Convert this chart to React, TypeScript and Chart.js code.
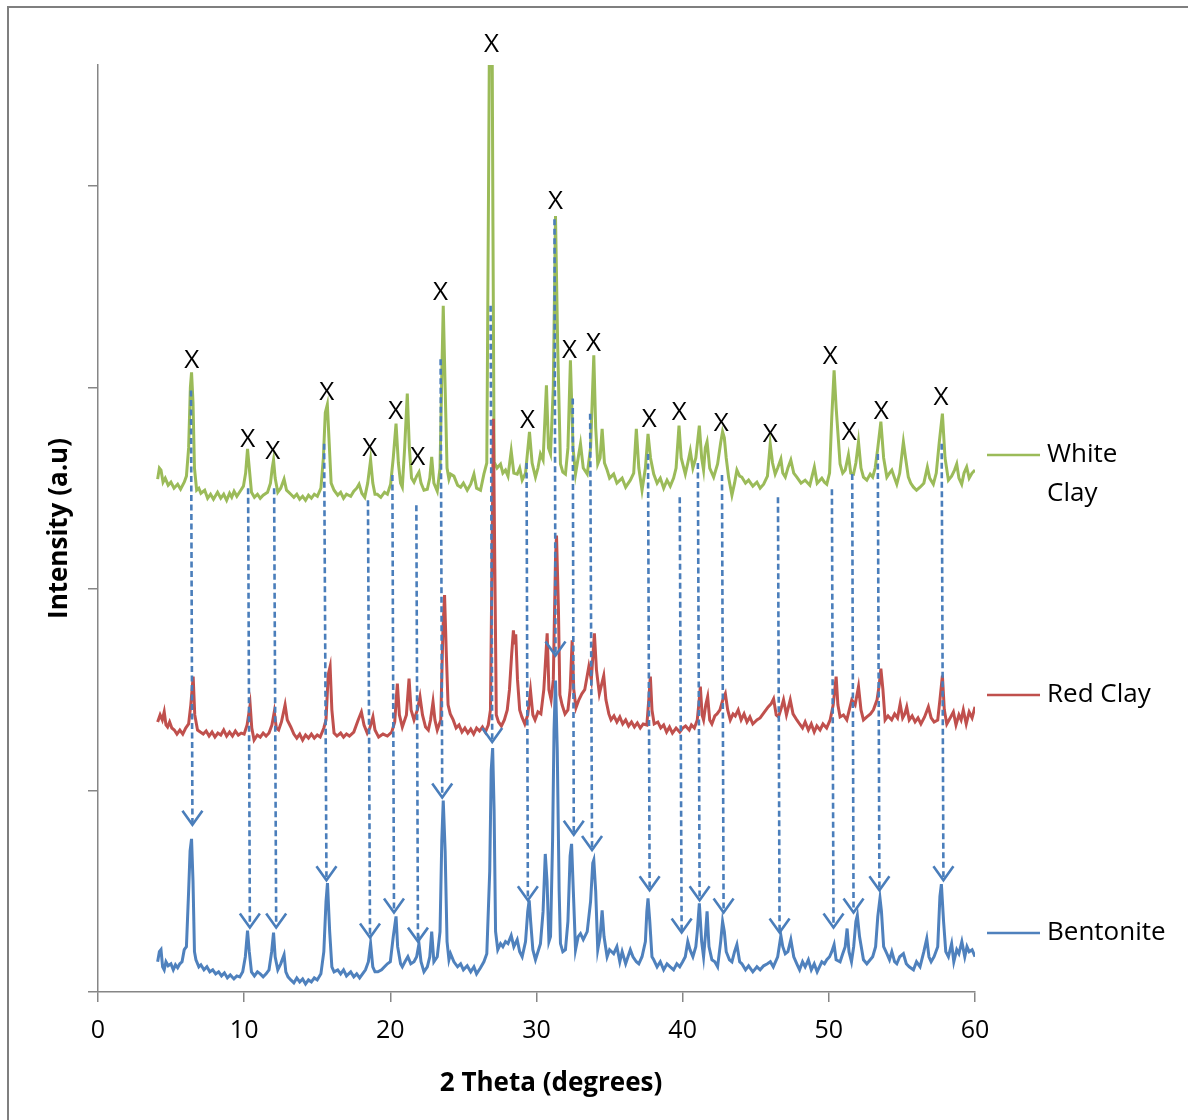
import React, { useEffect, useRef } from 'react';
import { Chart, registerables } from 'chart.js';

Chart.register(...registerables);

// ---------------- DATA (2θ in degrees, intensity in a.u.) ----------------
const whiteClay: [number, number][] = [
  [4.08, 509], [4.2, 520], [4.31, 518], [4.45, 506], [4.6, 510], [4.8, 503], [4.99, 506], [5.2, 500], [5.45, 504], [5.65, 499],
  [5.9, 506], [6.05, 512], [6.2, 540], [6.32, 600], [6.4, 615], [6.5, 585], [6.6, 520], [6.75, 498], [6.9, 500], [7.04, 495],
  [7.3, 498], [7.5, 490], [7.7, 494], [7.9, 489], [8.18, 496], [8.4, 490], [8.6, 494], [8.8, 488], [9.0, 495], [9.15, 491],
  [9.31, 497], [9.5, 492], [9.77, 498], [9.95, 502], [10.1, 515], [10.23, 539], [10.35, 520], [10.5, 496], [10.7, 491], [10.91, 494],
  [11.1, 490], [11.3, 493], [11.6, 496], [11.8, 505], [11.92, 520], [12.01, 528], [12.12, 510], [12.3, 496], [12.5, 500], [12.73, 509],
  [12.9, 498], [13.19, 494], [13.4, 491], [13.6, 494], [13.8, 489], [14.0, 492], [14.2, 488], [14.4, 493], [14.6, 490], [14.8, 494],
  [15.01, 492], [15.25, 500], [15.42, 530], [15.55, 575], [15.69, 583], [15.8, 550], [15.95, 505], [16.15, 498], [16.4, 493], [16.6, 496],
  [16.8, 490], [17.0, 494], [17.29, 492], [17.5, 497], [17.7, 500], [17.86, 504], [18.05, 495], [18.25, 491], [18.45, 505], [18.65, 528],
  [18.8, 505], [18.95, 494], [19.11, 494], [19.35, 491], [19.6, 496], [19.8, 494], [20.02, 504], [20.2, 530], [20.39, 564], [20.55, 525],
  [20.7, 505], [20.82, 501], [20.98, 540], [21.16, 594], [21.3, 540], [21.45, 510], [21.62, 506], [21.8, 512], [21.96, 516], [22.1, 505],
  [22.3, 498], [22.53, 499], [22.7, 510], [22.83, 531], [22.98, 505], [23.21, 497], [23.4, 520], [23.52, 610], [23.62, 681], [23.75, 600],
  [23.88, 520], [24.01, 509], [24.12, 514], [24.35, 512], [24.6, 503], [24.81, 501], [25.0, 505], [25.26, 498], [25.5, 504], [25.72, 514],
  [25.9, 500], [26.17, 498], [26.4, 514], [26.6, 525], [26.72, 800], [26.8, 1000], [26.95, 1000], [27.02, 760], [27.1, 526], [27.3, 520],
  [27.54, 524], [27.7, 515], [27.88, 518], [28.05, 512], [28.27, 537], [28.45, 515], [28.68, 514], [28.85, 520], [29.02, 508], [29.25, 515],
  [29.52, 556], [29.7, 525], [29.93, 511], [30.1, 520], [30.27, 534], [30.45, 528], [30.68, 602], [30.82, 540], [30.96, 534], [31.15, 600],
  [31.3, 770], [31.45, 640], [31.64, 524], [31.8, 516], [31.98, 514], [32.15, 540], [32.32, 627], [32.5, 540], [32.67, 514], [32.85, 530],
  [33.01, 544], [33.2, 520], [33.47, 514], [33.7, 540], [33.92, 632], [34.05, 560], [34.19, 524], [34.35, 530], [34.49, 559], [34.65, 525],
  [34.83, 518], [35.0, 510], [35.28, 514], [35.5, 505], [35.86, 510], [36.1, 501], [36.42, 508], [36.65, 515], [36.83, 559], [37.0, 520],
  [37.22, 498], [37.45, 520], [37.63, 554], [37.8, 530], [38.02, 514], [38.25, 505], [38.47, 510], [38.7, 500], [38.93, 508], [39.15, 502],
  [39.38, 510], [39.55, 520], [39.75, 562], [39.9, 530], [40.18, 514], [40.35, 525], [40.52, 537], [40.7, 520], [40.9, 530], [41.14, 562],
  [41.3, 530], [41.43, 518], [41.55, 540], [41.67, 546], [41.85, 520], [42.12, 511], [42.39, 524], [42.6, 545], [42.73, 556], [42.85, 550],
  [42.98, 530], [43.15, 510], [43.37, 493], [43.55, 505], [43.71, 518], [43.9, 512], [44.05, 511], [44.3, 505], [44.51, 508], [44.8, 502],
  [45.08, 506], [45.3, 500], [45.54, 504], [45.8, 512], [45.99, 544], [46.15, 525], [46.33, 514], [46.5, 520], [46.72, 529], [46.85, 515],
  [47.02, 511], [47.2, 520], [47.4, 528], [47.6, 515], [47.81, 511], [48.1, 505], [48.38, 508], [48.7, 503], [49.01, 521], [49.2, 505],
  [49.52, 510], [49.7, 506], [49.86, 504], [50.05, 515], [50.2, 570], [50.36, 617], [50.5, 580], [50.77, 524], [50.95, 515], [51.12, 518],
  [51.34, 533], [51.5, 515], [51.69, 514], [51.85, 525], [52.03, 546], [52.2, 520], [52.37, 511], [52.6, 508], [52.83, 514], [53.0, 511],
  [53.17, 520], [53.35, 540], [53.56, 566], [53.75, 530], [53.97, 511], [54.15, 515], [54.31, 518], [54.5, 510], [54.65, 504], [54.85, 515],
  [55.1, 546], [55.25, 530], [55.44, 511], [55.6, 505], [55.79, 501], [56.0, 498], [56.24, 501], [56.5, 505], [56.74, 521], [56.9, 510],
  [57.15, 504], [57.35, 515], [57.55, 545], [57.77, 574], [57.95, 530], [58.18, 508], [58.4, 512], [58.6, 518], [58.75, 524], [58.9, 510],
  [59.09, 504], [59.25, 515], [59.43, 521], [59.6, 510], [59.8, 515], [60.0, 518],
];

const redClay: [number, number][] = [
  [4.08, 268], [4.25, 275], [4.4, 270], [4.53, 278], [4.65, 265], [4.76, 263], [4.9, 268], [5.05, 262], [5.22, 260], [5.4, 256],
  [5.6, 260], [5.8, 256], [6.0, 262], [6.2, 266], [6.35, 285], [6.51, 313], [6.62, 275], [6.81, 260], [7.0, 258], [7.2, 256],
  [7.4, 259], [7.6, 254], [7.8, 258], [8.0, 253], [8.2, 257], [8.4, 255], [8.6, 260], [8.8, 254], [9.0, 258], [9.2, 254],
  [9.4, 259], [9.6, 255], [9.8, 257], [10.0, 256], [10.2, 265], [10.41, 285], [10.52, 262], [10.68, 250], [10.9, 255], [11.1, 253],
  [11.3, 257], [11.5, 254], [11.7, 257], [11.9, 265], [12.06, 278], [12.2, 262], [12.36, 260], [12.55, 268], [12.8, 285], [12.95, 270],
  [13.19, 263], [13.4, 256], [13.6, 252], [13.8, 256], [14.0, 250], [14.2, 255], [14.4, 252], [14.6, 256], [14.8, 252], [15.0, 255],
  [15.2, 253], [15.45, 262], [15.6, 270], [15.75, 315], [15.88, 323], [16.0, 280], [16.15, 257], [16.35, 254], [16.6, 257], [16.8, 253],
  [17.0, 256], [17.2, 254], [17.5, 258], [17.8, 270], [18.02, 278], [18.2, 265], [18.42, 257], [18.6, 262], [18.81, 273], [18.95, 260],
  [19.2, 253], [19.5, 256], [19.8, 254], [20.1, 258], [20.3, 268], [20.48, 306], [20.62, 275], [20.82, 263], [21.1, 275], [21.28, 311],
  [21.42, 280], [21.62, 270], [21.85, 280], [22.03, 293], [22.2, 275], [22.41, 263], [22.6, 260], [22.75, 270], [22.92, 288], [23.05, 270],
  [23.21, 260], [23.45, 270], [23.6, 360], [23.71, 394], [23.82, 340], [23.95, 285], [24.1, 276], [24.3, 270], [24.5, 262], [24.7, 265],
  [24.9, 258], [25.1, 262], [25.3, 257], [25.5, 261], [25.7, 256], [25.9, 262], [26.1, 259], [26.3, 263], [26.5, 258], [26.7, 265],
  [26.85, 280], [26.95, 420], [27.05, 569], [27.15, 420], [27.25, 275], [27.4, 268], [27.6, 264], [27.8, 270], [28.0, 280], [28.15, 300],
  [28.3, 335], [28.42, 359], [28.5, 345], [28.58, 355], [28.7, 310], [28.85, 280], [29.0, 273], [29.2, 266], [29.4, 275], [29.59, 299],
  [29.75, 275], [29.9, 270], [30.1, 278], [30.3, 276], [30.5, 300], [30.73, 356], [30.85, 300], [31.0, 290], [31.15, 310], [31.3, 430],
  [31.37, 453], [31.5, 380], [31.6, 295], [31.75, 285], [31.95, 276], [32.15, 280], [32.3, 300], [32.44, 349], [32.55, 300], [32.7, 282],
  [32.9, 290], [33.1, 296], [33.3, 300], [33.58, 323], [33.75, 310], [33.96, 356], [34.1, 320], [34.3, 296], [34.6, 314], [34.75, 290],
  [34.95, 276], [35.1, 270], [35.3, 274], [35.5, 268], [35.7, 273], [35.9, 266], [36.1, 270], [36.3, 264], [36.5, 268], [36.7, 263],
  [36.9, 267], [37.1, 262], [37.3, 266], [37.55, 265], [37.68, 290], [37.79, 313], [37.9, 280], [38.05, 266], [38.3, 268], [38.5, 262],
  [38.7, 265], [38.9, 258], [39.1, 263], [39.3, 257], [39.55, 262], [39.8, 258], [40.0, 262], [40.2, 264], [40.45, 260], [40.6, 265],
  [40.8, 262], [41.0, 270], [41.1, 285], [41.21, 303], [41.33, 275], [41.43, 270], [41.58, 285], [41.71, 293], [41.85, 270], [42.0, 266],
  [42.2, 274], [42.35, 276], [42.55, 280], [42.75, 290], [42.92, 296], [43.08, 280], [43.26, 270], [43.45, 276], [43.6, 274], [43.8, 280],
  [44.0, 270], [44.2, 276], [44.4, 268], [44.6, 273], [44.8, 266], [45.08, 270], [45.3, 272], [45.6, 278], [45.85, 283], [46.05, 286],
  [46.22, 291], [46.4, 275], [46.56, 273], [46.75, 282], [46.9, 290], [47.1, 275], [47.36, 290], [47.55, 276], [47.81, 270], [48.0, 266],
  [48.2, 262], [48.38, 268], [48.6, 260], [48.8, 266], [49.0, 258], [49.18, 264], [49.4, 260], [49.6, 266], [49.85, 262], [50.09, 270],
  [50.3, 285], [50.5, 313], [50.62, 285], [50.77, 273], [51.0, 275], [51.23, 270], [51.4, 280], [51.57, 290], [51.8, 285], [52.03, 303],
  [52.2, 280], [52.37, 270], [52.6, 273], [52.85, 276], [53.05, 280], [53.3, 290], [53.45, 305], [53.56, 321], [53.7, 300], [53.85, 270],
  [54.05, 274], [54.3, 270], [54.5, 276], [54.7, 272], [54.88, 286], [55.05, 272], [55.2, 276], [55.33, 283], [55.5, 270], [55.7, 274],
  [55.9, 268], [56.1, 272], [56.3, 266], [56.55, 273], [56.81, 283], [57.0, 272], [57.2, 268], [57.45, 270], [57.6, 290], [57.77, 314],
  [57.9, 280], [58.07, 266], [58.3, 272], [58.52, 278], [58.7, 265], [58.9, 275], [59.05, 270], [59.2, 280], [59.4, 266], [59.6, 278],
  [59.8, 272], [60.0, 283],
];

const bentonite: [number, number][] = [
  [4.08, 30], [4.2, 40], [4.31, 42], [4.42, 25], [4.53, 22], [4.65, 30], [4.8, 26], [4.99, 28], [5.15, 22], [5.3, 27],
  [5.45, 24], [5.6, 28], [5.75, 30], [5.9, 42], [6.05, 45], [6.2, 100], [6.3, 140], [6.4, 152], [6.5, 110], [6.6, 40],
  [6.7, 32], [6.9, 25], [7.04, 27], [7.25, 22], [7.45, 25], [7.65, 20], [7.85, 22], [8.05, 18], [8.25, 20], [8.45, 16],
  [8.65, 19], [8.85, 14], [9.05, 17], [9.3, 13], [9.5, 16], [9.7, 15], [9.9, 20], [10.08, 35], [10.23, 61], [10.35, 40],
  [10.5, 20], [10.7, 16], [10.91, 20], [11.1, 18], [11.3, 15], [11.5, 18], [11.7, 22], [11.88, 40], [12.01, 59], [12.12, 35],
  [12.3, 22], [12.5, 28], [12.73, 37], [12.85, 20], [13.0, 15], [13.19, 12], [13.4, 9], [13.6, 14], [13.8, 10], [14.0, 13],
  [14.2, 8], [14.4, 12], [14.6, 10], [14.8, 14], [15.0, 12], [15.25, 18], [15.45, 40], [15.6, 90], [15.7, 108], [15.85, 60],
  [16.0, 25], [16.15, 20], [16.4, 22], [16.6, 18], [16.8, 22], [17.0, 16], [17.29, 20], [17.5, 15], [17.7, 18], [17.9, 14],
  [18.1, 18], [18.3, 22], [18.5, 30], [18.65, 48], [18.8, 25], [18.95, 20], [19.15, 20], [19.4, 22], [19.6, 25], [19.8, 28],
  [20.0, 30], [20.2, 55], [20.39, 75], [20.5, 45], [20.7, 28], [20.82, 25], [21.0, 30], [21.2, 35], [21.4, 28], [21.62, 30],
  [21.8, 35], [21.96, 48], [22.1, 30], [22.3, 20], [22.53, 25], [22.7, 35], [22.83, 60], [22.98, 30], [23.21, 35], [23.4, 60],
  [23.52, 150], [23.62, 190], [23.75, 140], [23.88, 50], [24.01, 32], [24.12, 38], [24.35, 30], [24.6, 25], [24.81, 28], [25.0, 22],
  [25.26, 26], [25.5, 20], [25.72, 25], [25.9, 18], [26.17, 24], [26.4, 30], [26.6, 38], [26.8, 120], [26.9, 220], [27.0, 242],
  [27.1, 180], [27.2, 60], [27.35, 42], [27.54, 48], [27.7, 45], [27.88, 50], [28.05, 48], [28.27, 56], [28.45, 45], [28.68, 52],
  [28.85, 40], [29.02, 35], [29.25, 50], [29.4, 80], [29.5, 91], [29.6, 70], [29.75, 42], [29.93, 32], [30.1, 40], [30.27, 48],
  [30.45, 80], [30.6, 137], [30.72, 110], [30.85, 50], [30.96, 55], [31.1, 150], [31.2, 260], [31.3, 309], [31.42, 240], [31.55, 100],
  [31.64, 48], [31.8, 40], [31.98, 42], [32.15, 70], [32.3, 135], [32.4, 147], [32.52, 100], [32.67, 42], [32.85, 55], [33.01, 58],
  [33.2, 52], [33.47, 60], [33.7, 90], [33.85, 128], [33.92, 131], [34.05, 100], [34.19, 42], [34.35, 55], [34.49, 81], [34.62, 55],
  [34.83, 35], [35.0, 42], [35.28, 38], [35.5, 45], [35.7, 30], [35.86, 40], [36.1, 28], [36.42, 42], [36.6, 35], [36.83, 30],
  [37.0, 28], [37.22, 35], [37.45, 50], [37.55, 80], [37.63, 93], [37.75, 70], [37.9, 35], [38.02, 32], [38.25, 25], [38.47, 30],
  [38.7, 22], [38.93, 28], [39.15, 25], [39.38, 22], [39.6, 28], [39.8, 25], [40.0, 30], [40.18, 35], [40.35, 50], [40.5, 42],
  [40.7, 35], [40.9, 45], [41.0, 60], [41.14, 88], [41.3, 50], [41.43, 35], [41.55, 55], [41.67, 80], [41.8, 45], [42.0, 32],
  [42.2, 30], [42.39, 25], [42.6, 50], [42.73, 70], [42.85, 60], [42.98, 40], [43.2, 32], [43.37, 30], [43.55, 40], [43.71, 47],
  [43.9, 30], [44.05, 28], [44.3, 22], [44.51, 26], [44.8, 20], [45.08, 25], [45.3, 22], [45.54, 26], [45.8, 28], [46.0, 30],
  [46.2, 25], [46.5, 35], [46.72, 56], [46.85, 45], [47.02, 38], [47.2, 40], [47.4, 52], [47.6, 35], [47.81, 28], [48.0, 22],
  [48.2, 30], [48.38, 25], [48.6, 32], [48.8, 22], [49.0, 28], [49.2, 20], [49.52, 30], [49.7, 28], [49.86, 32], [50.05, 35],
  [50.2, 40], [50.36, 47], [50.5, 32], [50.77, 30], [50.95, 38], [51.12, 45], [51.25, 63], [51.38, 40], [51.55, 30], [51.7, 45],
  [51.85, 70], [51.95, 76], [52.1, 55], [52.37, 32], [52.6, 28], [52.83, 32], [53.0, 35], [53.2, 45], [53.35, 75], [53.5, 93],
  [53.6, 80], [53.75, 45], [53.97, 38], [54.15, 32], [54.31, 40], [54.5, 30], [54.65, 28], [54.85, 35], [55.1, 38], [55.3, 28],
  [55.5, 25], [55.79, 22], [56.0, 30], [56.24, 25], [56.5, 40], [56.7, 53], [56.85, 35], [57.0, 30], [57.2, 35], [57.45, 45],
  [57.6, 95], [57.7, 107], [57.85, 70], [58.0, 40], [58.18, 35], [58.4, 48], [58.55, 30], [58.75, 42], [58.9, 38], [59.1, 50],
  [59.3, 35], [59.45, 45], [59.6, 40], [59.8, 42], [60.0, 35],
];

// "X" marks over White Clay peaks: [2θ, label height]
const peakMarks: [number, number][] = [
  [6.42, 627], [10.25, 548], [11.96, 536], [15.65, 595], [18.59, 539], [20.37, 576], [21.87, 530],
  [23.44, 694], [26.93, 940], [29.39, 567], [31.3, 784], [32.26, 637], [33.9, 644], [37.72, 568],
  [39.77, 575], [42.64, 564], [45.99, 553], [50.09, 631], [51.39, 555], [53.58, 576], [57.68, 590],
];

// dashed arrows White Clay -> Bentonite: [2θ top, intensity top, 2θ tip, intensity tip]
const arrowLinks: [number, number, number, number][] = [
  [6.36, 597, 6.46, 166], [10.27, 500, 10.39, 64], [12.05, 500, 12.19, 64], [15.47, 544, 15.63, 111],
  [18.47, 488, 18.61, 54], [20.14, 513, 20.25, 79], [21.78, 483, 21.89, 50], [23.44, 628, 23.55, 193],
  [26.86, 681, 26.97, 248], [29.32, 525, 29.41, 91], [31.23, 767, 31.3, 334], [32.48, 589, 32.55, 156],
  [33.67, 574, 33.8, 141], [37.63, 534, 37.74, 101], [39.8, 491, 39.93, 59], [41.04, 525, 41.16, 91],
  [42.69, 513, 42.8, 79], [46.52, 491, 46.63, 59], [50.21, 499, 50.32, 64], [51.6, 514, 51.69, 79],
  [53.35, 534, 53.46, 101], [57.72, 544, 57.84, 111],
];

const seriesNames = ['White Clay', 'Red Clay', 'Bentonite'];
const seriesColors = ['#9BBB59', '#C0504D', '#4F81BD'];
const xAxisTitle = '2 Theta (degrees)';
const yAxisTitle = 'Intensity (a.u)';

const FONT = '"Open Sans", "DejaVu Sans", sans-serif';
const AXIS_GREY = '#868686';
const ARROW_BLUE = '#4A7EBB';

const annotationPlugin = {
  id: 'xrdAnnotations',
  afterDatasetsDraw(chart: any) {
    const { ctx, scales } = chart;
    const xs = scales.x;
    const ys = scales.y;
    ctx.save();
    // dashed arrows
    ctx.strokeStyle = ARROW_BLUE;
    ctx.lineWidth = 2.6;
    for (const [x0, y0, x1, y1] of arrowLinks) {
      const px0 = xs.getPixelForValue(x0);
      const py0 = ys.getPixelForValue(y0);
      const px1 = xs.getPixelForValue(x1);
      const py1 = ys.getPixelForValue(y1);
      ctx.setLineDash([6, 3.5]);
      ctx.beginPath();
      ctx.moveTo(px0, py0);
      ctx.lineTo(px1, py1 - 2);
      ctx.stroke();
      ctx.setLineDash([]);
      ctx.beginPath();
      ctx.moveTo(px1 - 10, py1 - 14);
      ctx.lineTo(px1, py1);
      ctx.lineTo(px1 + 10, py1 - 14);
      ctx.stroke();
    }
    // X labels
    ctx.fillStyle = '#000';
    ctx.font = `26px ${FONT}`;
    ctx.textAlign = 'center';
    ctx.textBaseline = 'middle';
    for (const [x, y] of peakMarks) {
      ctx.fillText('X', xs.getPixelForValue(x), ys.getPixelForValue(y));
    }
    ctx.restore();
  },
  afterDraw(chart: any) {
    const { ctx, chartArea } = chart;
    ctx.save();
    // axis titles
    ctx.fillStyle = '#000';
    ctx.font = `bold 26px ${FONT}`;
    ctx.textAlign = 'center';
    ctx.textBaseline = 'middle';
    ctx.fillText(xAxisTitle, 551, 1084);
    ctx.translate(60, (chartArea.top + chartArea.bottom) / 2);
    ctx.rotate(-Math.PI / 2);
    ctx.fillText(yAxisTitle, 0, 0);
    ctx.restore();

    // legend
    ctx.save();
    const legendRows = [
      { lines: ['White', 'Clay'], y: 455 },
      { lines: ['Red Clay'], y: 695 },
      { lines: ['Bentonite'], y: 933 },
    ];
    ctx.font = `26px ${FONT}`;
    ctx.textAlign = 'left';
    ctx.textBaseline = 'middle';
    legendRows.forEach((row, i) => {
      ctx.strokeStyle = seriesColors[i];
      ctx.lineWidth = 2.5;
      ctx.beginPath();
      ctx.moveTo(chartArea.right + 12, row.y);
      ctx.lineTo(chartArea.right + 65, row.y);
      ctx.stroke();
      ctx.fillStyle = '#000';
      row.lines.forEach((t, j) => ctx.fillText(t, chartArea.right + 72, row.y + j * 39));
    });
    ctx.restore();
  },
};

export default function App() {
  const canvasRef = useRef<HTMLCanvasElement | null>(null);

  useEffect(() => {
    if (!canvasRef.current) return;
    const all = [whiteClay, redClay, bentonite];
    const chart = new Chart(canvasRef.current, {
      type: 'line',
      data: {
        datasets: all.map((s, i) => ({
          label: seriesNames[i],
          data: s.map(([x, y]) => ({ x, y })),
          borderColor: seriesColors[i],
          backgroundColor: seriesColors[i],
          borderWidth: 3,
          pointRadius: 0,
          tension: 0,
          fill: false,
          order: 3 - i,
        })),
      },
      options: {
        responsive: false,
        animation: false,
        devicePixelRatio: 1,
        layout: { padding: { left: 78, right: 213, top: 65, bottom: 68 } },
        plugins: { legend: { display: false }, tooltip: { enabled: false }, title: { display: false } },
        scales: {
          x: {
            type: 'linear',
            min: 0,
            max: 60,
            afterFit: (s: any) => { s.height = 60; },
            ticks: { stepSize: 10, color: '#000', font: { family: FONT, size: 25 }, padding: 14 },
            grid: { drawOnChartArea: false, drawTicks: true, tickLength: 10, color: AXIS_GREY, lineWidth: 1.5 },
            border: { display: true, color: AXIS_GREY, width: 1.5 },
          },
          y: {
            type: 'linear',
            min: 0,
            max: 920,
            afterFit: (s: any) => { s.width = 20; },
            ticks: { stepSize: 200, includeBounds: false, callback: () => '' },
            grid: { drawOnChartArea: false, drawTicks: true, tickLength: 10, color: AXIS_GREY, lineWidth: 1.5 },
            border: { display: true, color: AXIS_GREY, width: 1.5 },
          },
        },
      },
      plugins: [annotationPlugin],
    });
    return () => chart.destroy();
  }, []);

  return (
    <div style={{ position: 'absolute', left: 0, top: 0, width: 1188, height: 1120, background: '#fff', overflow: 'hidden' }}>
      <div
        style={{
          position: 'absolute', left: 7, top: 6, width: 1200, height: 1200,
          borderTop: '2px solid #7F7F7F', borderLeft: '2px solid #7F7F7F', boxSizing: 'border-box',
        }}
      />
      <canvas ref={canvasRef} width={1188} height={1120} style={{ position: 'absolute', left: 0, top: 0 }} />
    </div>
  );
}
